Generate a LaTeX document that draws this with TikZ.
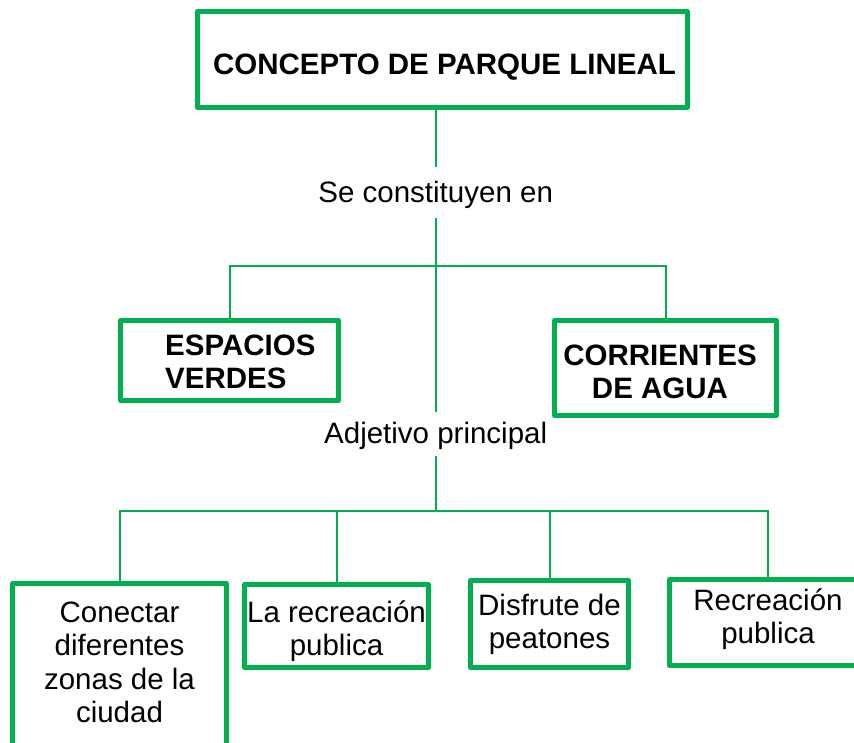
\documentclass[tikz,border=0pt]{standalone}
\usepackage{fontspec}
\setmainfont{Liberation Sans}
\definecolor{pgreen}{RGB}{0,176,80}
\newcommand{\cellsC}[1]{\begin{tabular}[t]{@{}c@{}}#1\end{tabular}}
\newcommand{\cellsL}[1]{\begin{tabular}[t]{@{}l@{}}#1\end{tabular}}
\tikzset{
  box/.style={draw=pgreen, line width=5pt, inner sep=0pt, rectangle, line join=round},
  txt/.style={inner sep=0pt, text=black, font=\fontsize{29.5}{33.5}\selectfont},
  btxt/.style={txt, font=\fontsize{29.5}{33.5}\selectfont\bfseries},
  conn/.style={draw=pgreen, line width=2pt},
}
\begin{document}
\begin{tikzpicture}[x=1pt,y=-1pt]
\useasboundingbox (0,0) rectangle (854,743);
\clip (0,0) rectangle (854,743);
\fill[white] (0,0) rectangle (854,743);

% boxes
\node[box, minimum width=490pt, minimum height=96pt] (top) at (442.5,59.5) {};
\node[box, minimum width=218pt, minimum height=80pt] (ev) at (229.5,360.5) {};
\node[box, minimum width=222pt, minimum height=95pt] (ca) at (665.5,368) {};
\node[box, minimum width=214pt, minimum height=174pt] (b1) at (119.5,670.5) {};
\node[box, minimum width=184pt, minimum height=83pt] (b2) at (336.5,626) {};
\node[box, minimum width=158pt, minimum height=87pt] (b3) at (549.5,624) {};
\node[box, minimum width=197pt, minimum height=86pt] (b4) at (768,622.5) {};

% box texts
\node[btxt, anchor=base] (ttop) at (444.5,75) {CONCEPTO DE PARQUE LINEAL};
\node[btxt, anchor=base west] (tev) at (165,355) {\cellsL{ESPACIOS\\VERDES}};
\node[btxt, anchor=base] (tca) at (660,365) {\cellsC{CORRIENTES\\DE AGUA}};
\node[txt, anchor=base] (tb1) at (119.5,622) {\cellsC{Conectar\\diferentes\\zonas de la\\ciudad}};
\node[txt, anchor=base] (tb2) at (336.5,622) {\cellsC{La recreación\\publica}};
\node[txt, anchor=base] (tb3) at (549.5,615) {\cellsC{Disfrute de\\peatones}};
\node[txt, anchor=base] (tb4) at (768,610) {\cellsC{Recreación\\publica}};

% connector labels
\node[txt, anchor=base, text height=36pt, text depth=15pt] (se) at (435.7,203) {Se constituyen en};
\node[txt, anchor=base, text height=31pt, text depth=13pt] (adj) at (435.7,443) {Adjetivo principal};

\coordinate (j1) at (435.7,266);
\coordinate (j2) at (435.7,511);

% connectors
\draw[conn] (se.north) -- (se.north |- top.south);
\draw[conn] (se.south) -- (adj.north);
\draw[conn] (ev.north) |- (j1) -| (ca.north);
\draw[conn] (adj.south) -- (j2);
\draw[conn] (b1.north) |- (j2) -| (b4.north);
\draw[conn] (b2.north) -- (b2.north |- j2);
\draw[conn] (b3.north) -- (b3.north |- j2);
\end{tikzpicture}
\end{document}
